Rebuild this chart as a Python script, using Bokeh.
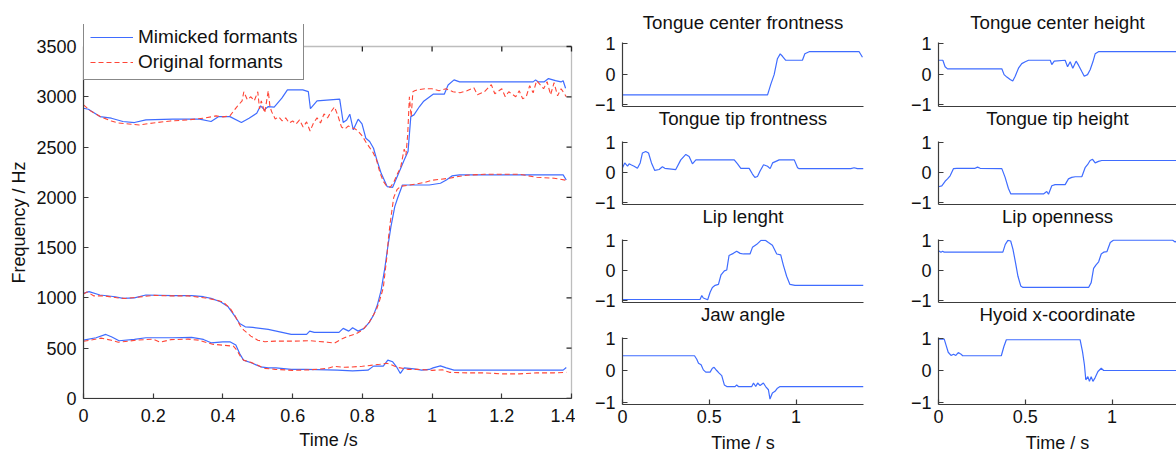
from bokeh.plotting import figure
from bokeh.layouts import row, column
from bokeh.models import Range1d, FixedTicker, LinearAxis, Legend, LegendItem, Title, BoxAnnotation
from bokeh.embed import file_html
from bokeh.resources import INLINE

# ---------------- data: main formant plot ----------------
x_ticks_main = [0, 0.2, 0.4, 0.6, 0.8, 1.0, 1.2, 1.4]
x_labels_main = ["0", "0.2", "0.4", "0.6", "0.8", "1", "1.2", "1.4"]
y_ticks_main = [0, 500, 1000, 1500, 2000, 2500, 3000, 3500]

t_f3_mim = [0, .014, .047, .08, .113, .146, .179, .256, .333, .366, .388, .42, .453, .475, .497, .508, .519, .53, .547,
            .569, .585, .629, .645, .651, .67, .735, .745, .755, .764, .774, .788, .799, .81, .821, .832, .843, .854,
            .871, .887, .904, .92, .931, .939, .948, .964, .975, 1.003, 1.035, 1.046, 1.063, 1.079, 1.29, 1.297,
            1.305, 1.321, 1.334, 1.354, 1.37, 1.376, 1.383]
f3_mim = [2886, 2876, 2803, 2787, 2754, 2744, 2770, 2777, 2777, 2754, 2803, 2803, 2744, 2787, 2836, 2910, 2870, 2903, 2897,
          2986, 3069, 3069, 3052, 2883, 2960, 2976, 2744, 2770, 2827, 2671, 2777, 2730, 2588, 2555, 2488, 2356, 2239,
          2107, 2100, 2239, 2372, 2455, 2803, 2820, 2903, 2953, 3026, 3026, 3118, 3168, 3148, 3148, 3168,
          3148, 3148, 3181, 3161, 3148, 3160, 3085]

t_f3_orig = [0, .02, .05, .08, .1, .13, .16, .2, .25, .3, .35, .38, .4, .42, .44, .455, .46, .47, .48, .49, .5, .505,
             .51, .52, .53, .535, .54, .55, .56, .57, .58, .59, .6, .61, .62, .63, .64, .65, .66, .67, .68, .69, .7,
             .71, .72, .73, .74, .75, .76, .77, .78, .79, .8, .81, .82, .83, .84, .85, .86, .87, .88, .89, .9, .91,
             .92, .925, .93, .935, .94, .945, .95, .96, .98, 1.0, 1.02, 1.04, 1.06, 1.08, 1.1, 1.12, 1.13, 1.15, 1.17,
             1.18, 1.2, 1.21, 1.22, 1.24, 1.25, 1.26, 1.27, 1.28, 1.29, 1.3, 1.31, 1.32, 1.33, 1.34, 1.35, 1.36, 1.37,
             1.38, 1.385]
f3_orig = [2920, 2860, 2800, 2760, 2740, 2730, 2720, 2740, 2760, 2770, 2790, 2810, 2800, 2810, 2900, 2960, 3050, 2970,
           3000, 2960, 3050, 2880, 2960, 2840, 3060, 2900, 2850, 2780, 2800, 2760, 2790, 2740, 2760, 2730, 2770, 2700,
           2750, 2660, 2740, 2790, 2740, 2830, 2790, 2850, 2900, 2810, 2700, 2680, 2710, 2690, 2680, 2650, 2610, 2550,
           2500, 2450, 2380, 2250, 2160, 2110, 2100, 2150, 2230, 2300, 2480, 2420, 2620, 3000, 2800, 3050, 3060, 3070,
           3080, 3080, 3060, 3080, 3050, 3040, 3060, 3090, 3020, 3050, 3120, 3030, 3080, 3000, 3050, 3000, 3060, 2980,
           3000, 3110, 3040, 3160, 3120, 3080, 3150, 3020, 3140, 3010, 3080, 3030, 3000]

t_f2_mim = [0, .016, .047, .091, .113, .146, .179, .256, .31, .344, .366, .393, .415, .432, .448, .464, .486, .53, .563,
            .596, .64, .649, .662, .706, .733, .745, .761, .772, .788, .805, .821, .832, .843, .854, .865, .873, .882,
            .893, .901, .915, .948, .992, 1.024, 1.041, 1.057, 1.079, 1.2, 1.3, 1.376, 1.385]
f2_mim = [1045, 1062, 1029, 1012, 995, 1000, 1029, 1022, 1022, 1012, 995, 962, 912, 829, 746, 713, 707, 687, 663,
          637, 637, 670, 657, 657, 657, 697, 670, 703, 670, 697, 763, 829, 929, 1078, 1310, 1509, 1709,
          1908, 1991, 2123, 2123, 2123, 2140, 2173, 2213, 2223, 2223, 2223, 2223, 2173]

t_f2_orig = [0, .01, .03, .06, .1, .12, .15, .2, .25, .3, .35, .38, .4, .42, .435, .45, .46, .48, .5, .52, .55, .6,
             .65, .7, .72, .74, .76, .78, .8, .82, .84, .85, .86, .87, .875, .88, .89, .9, .91, .93, .95, .98, 1.0,
             1.05, 1.08, 1.1, 1.15, 1.2, 1.25, 1.3, 1.35, 1.385]
f2_orig = [1040, 1060, 1020, 1020, 1000, 995, 1005, 1025, 1020, 1020, 1000, 980, 960, 900, 820, 720, 680, 620, 580,
           565, 570, 570, 575, 560, 550, 590, 620, 640, 680, 760, 880, 980, 1100, 1400, 1600, 1750, 2000, 2080, 2110,
           2120, 2130, 2150, 2170, 2190, 2210, 2220, 2230, 2230, 2230, 2200, 2190, 2170]

t_f1_mim = [0, .036, .064, .08, .102, .146, .179, .256, .31, .344, .366, .4, .42, .437, .448, .459, .481, .508, .53,
            .552, .596, .64, .728, .772, .816, .832, .86, .873, .887, .898, .909, .92, .948, .97, .992, 1.003, 1.024,
            1.041, 1.063, 1.2, 1.376, 1.385]
f1_mim = [581, 604, 637, 614, 574, 587, 604, 604, 607, 587, 554, 564, 564, 531, 448, 382, 355, 315, 305,
          305, 289, 289, 282, 275, 282, 322, 322, 382, 365, 315, 249, 305, 295, 282, 289, 305, 325,
          305, 282, 282, 282, 309]

t_f1_orig = [0, .02, .05, .08, .1, .13, .15, .2, .22, .25, .3, .33, .35, .37, .4, .43, .44, .45, .46, .48, .5, .52,
             .55, .6, .65, .7, .72, .75, .8, .85, .87, .88, .9, .93, .96, 1.0, 1.03, 1.05, 1.1, 1.15, 1.2, 1.25, 1.3,
             1.35, 1.385]
f1_orig = [570, 580, 600, 580, 560, 570, 580, 590, 560, 585, 590, 580, 560, 540, 530, 520, 480, 420, 380, 360, 330,
           300, 290, 280, 285, 300, 320, 310, 320, 340, 350, 340, 310, 290, 290, 280, 285, 260, 255, 255, 245, 245,
           255, 255, 260]

# ---------------- data: articulatory parameters ----------------
sub_ticks_y = [-1, 0, 1]
sub_ticks_x = [0, 0.5, 1]
sub_labels_x = ["0", "0.5", "1"]

t_tcf = [0, .836, .855, .874, .893, .909, .922, .941, 1.037, 1.051, 1.076, 1.364, 1.383]
v_tcf = [-.68, -.68, -.33, -.02, .5, .66, .58, .45, .45, .66, .73, .73, .55]

t_ttf = [0, .013, .029, .038, .052, .067, .086, .102, .115, .134, .15, .167, .186, .211, .23, .244, .307, .336, .365,
         .384, .403, .423, .644, .663, .682, .73, .749, .763, .778, .793, .813, .836, .851, .865, .884, .903, .99,
         1.009, 1.018, 1.316, 1.335, 1.354, 1.389]
v_ttf = [.16, .32, .21, .29, .25, .21, .14, .32, .65, .70, .65, .32, .07, .10, .19, .14, .10, .42, .60,
         .53, .29, .42, .42, .29, .14, .14, -.05, -.16, -.13, .05, .26, .21, .13, .32, .37, .42, .42,
         .16, .13, .13, .16, .13, .13]

t_lipl = [0, .447, .457, .466, .491, .505, .518, .534, .553, .568, .587, .601, .614, .639, .658, .678, .697, .735,
          .749, .774, .798, .825, .841, .864, .889, .912, .927, .946, .965, .994, 1.389]
v_lipl = [-.96, -.96, -.83, -.91, -.97, -.72, -.56, -.49, -.46, -.14, -.01, .02, .50, .57, .64, .57, .55, .55,
          .77, .87, 1.0, 1.0, .93, .84, .55, .52, .18, -.19, -.46, -.49, -.49]

t_jaw = [0, .415, .428, .438, .453, .466, .48, .505, .518, .528, .543, .557, .572, .587, .601, .649, .658, .668, .745,
         .755, .768, .779, .793, .812, .825, .841, .85, .864, .879, .893, .908, 1.389]
v_jaw = [.46, .46, .35, .23, .18, .02, -.05, -.05, .07, .10, 0, -.08, -.16, -.45, -.5, -.5, -.45, -.5, -.5,
         -.39, -.5, -.39, -.47, -.39, -.5, -.6, -.89, -.7, -.65, -.55, -.5, -.5]

t_tch = [0, .025, .038, .052, .365, .378, .394, .413, .428, .442, .461, .48, .5, .519, .644, .653, .667, .73, .744,
         .759, .774, .793, .807, .826, .84, .859, .874, .89, .903, .922, 1.374]
v_tch = [.45, .45, .24, .17, .17, -.02, -.10, -.18, -.23, -.07, .19, .34, .40, .45, .45, .31, .42, .45, .24,
         .40, .19, .42, .29, .08, -.07, -.02, .14, .40, .66, .73, .73]

t_tth = [0, .019, .038, .052, .067, .086, .106, .211, .225, .24, .365, .384, .403, .417, .605, .624, .634, .653, .672,
         .73, .749, .768, .788, .826, .845, .859, .874, .888, .903, .922, .941, 1.374]
v_tth = [-.47, -.44, -.29, -.21, -.11, .13, .14, .14, .18, .14, .13, -.16, -.53, -.71, -.71, -.63, -.72, -.44, -.40,
         -.40, -.21, -.16, -.14, -.14, .16, .26, .40, .44, .32, .37, .40, .40]

t_lipo = [0, .014, .024, .033, .371, .385, .4, .416, .429, .443, .458, .474, .487, .865, .88, .894, .907, .923, .938,
          .952, .971, .99, 1.01, 1.348, 1.364, 1.383]
v_lipo = [.66, .61, .64, .61, .61, .87, 1.0, .98, .71, .29, -.19, -.51, -.56, -.56, -.40, .07, .18, .29, .55,
          .61, .63, .93, 1.01, 1.01, .95, 1.0]

t_hyo = [0, .033, .043, .056, .072, .087, .1, .114, .13, .139, .362, .377, .391, .816, .83, .841, .849, .861, .87, .88,
         .89, .903, .919, .938, .952, 1.387]
v_hyo = [.98, .98, .80, .57, .47, .51, .47, .56, .51, .46, .46, .75, .96, .96, .59, .18, -.29, -.19, -.34, -.19,
         -.34, -.22, -.03, .07, 0, 0]

# ---------------- styling ----------------
FONT = "Liberation Sans"
BLUE = "#3f6cff"
RED = "#ff4536"
AX = "#3c3c3c"
BOX = "#262626"
TXT = "#111111"
TITLE_SIZE = "18.7px"


def style_axis(ax):
    ax.axis_line_color = AX
    ax.axis_line_width = 1.2
    ax.major_tick_line_color = AX
    ax.major_tick_line_width = 1.2
    ax.major_tick_in = 5
    ax.major_tick_out = 0
    ax.minor_tick_line_color = None
    ax.major_label_text_font = FONT
    ax.major_label_text_font_size = "18px"
    ax.major_label_text_color = TXT
    ax.axis_label_text_font = FONT
    ax.axis_label_text_font_size = "18px"
    ax.axis_label_text_font_style = "normal"
    ax.axis_label_text_color = TXT


# ---------------- main figure ----------------
# the frame reaches up to the legend top; the axes box itself stops at 3500 Hz
px_per_hz = 352 / y_ticks_main[-1]
px_per_s = 488 / x_ticks_main[-1]
y_top = 374 / px_per_hz
x_end = x_ticks_main[-1] + 2 / px_per_s
x_last, y_last = x_ticks_main[-1], y_ticks_main[-1]

main = figure(width=575, height=455, x_range=Range1d(x_ticks_main[0], x_end),
              y_range=Range1d(y_ticks_main[0], y_top),
              output_backend="svg", toolbar_location=None,
              min_border_left=83, min_border_right=2, min_border_top=24, min_border_bottom=57)
main.grid.visible = False
main.outline_line_color = None

r_m3 = main.line(t_f3_mim, f3_mim, color=BLUE, line_width=1.2)
r_o3 = main.line(t_f3_orig, f3_orig, color=RED, line_width=1.1, line_dash="5 3")
main.line(t_f2_mim, f2_mim, color=BLUE, line_width=1.2)
main.line(t_f2_orig, f2_orig, color=RED, line_width=1.1, line_dash="5 3")
main.line(t_f1_mim, f1_mim, color=BLUE, line_width=1.2)
main.line(t_f1_orig, f1_orig, color=RED, line_width=1.1, line_dash="5 3")

# axes box (top and right edges) with inward ticks on top/right
box = BoxAnnotation(left=x_ticks_main[0], right=x_last, bottom=y_ticks_main[0], top=y_last,
                    fill_alpha=0, fill_color=None, line_color=BOX, line_width=1.3)
main.add_layout(box)
tick_hz = 5 / px_per_hz
tick_s = 5 / px_per_s
main.segment(x0=x_ticks_main, y0=[y_last] * len(x_ticks_main), x1=x_ticks_main,
             y1=[y_last - tick_hz] * len(x_ticks_main), color=BOX, line_width=1.3)
main.segment(x0=[x_last] * len(y_ticks_main), y0=y_ticks_main, x1=[x_last - tick_s] * len(y_ticks_main),
             y1=y_ticks_main, color=BOX, line_width=1.3)

main.xaxis.ticker = FixedTicker(ticks=x_ticks_main)
main.xaxis.major_label_overrides = {k: v for k, v in zip(x_ticks_main, x_labels_main)}
main.yaxis.ticker = FixedTicker(ticks=y_ticks_main)
main.yaxis.bounds = (y_ticks_main[0], y_last)
main.xaxis.bounds = (x_ticks_main[0], x_last)
style_axis(main.xaxis[0])
style_axis(main.yaxis[0])
main.xaxis.axis_label = "Time /s"
main.xaxis.major_label_standoff = 10
main.xaxis.axis_label_standoff = 5
main.yaxis.major_label_standoff = 7

# y label as a left-side title, anchored so that it is centred on the 0..3500 box
ylab = Title(text="Frequency / Hz", align="left", offset=115, vertical_align="middle", standoff=7,
             text_font=FONT, text_font_size="18px", text_font_style="normal", text_color=TXT)
main.add_layout(ylab, "left")

legend = Legend(items=[LegendItem(label="Mimicked formants", renderers=[r_m3]),
                       LegendItem(label="Original formants", renderers=[r_o3])],
                location=(0, 318), padding=6, spacing=3, margin=0,
                glyph_width=43, glyph_height=20, label_height=20, label_standoff=5,
                label_text_font=FONT, label_text_font_size="19px", label_text_color=TXT,
                border_line_color=TXT, border_line_width=1.2,
                background_fill_color="white", background_fill_alpha=1.0)
main.add_layout(legend, "center")


# ---------------- small figures ----------------
# each panel's title is drawn as the label of the axis just above it (first row)
# or of the bottom axis of the panel above, so that no text straddles two canvases
def small(t, v, height, top, bottom, width, left, right, xend, top_title, below_text, is_last):
    p = figure(width=width, height=height, x_range=Range1d(0, xend), y_range=Range1d(-1.06, 1.03),
               output_backend="svg", toolbar_location=None,
               min_border_left=left, min_border_right=right, min_border_top=top, min_border_bottom=bottom)
    p.grid.visible = False
    p.outline_line_color = None
    p.line(t, v, color=BLUE, line_width=1.2)
    style_axis(p.yaxis[0])
    p.yaxis.ticker = FixedTicker(ticks=sub_ticks_y)
    p.yaxis.major_label_standoff = 7
    style_axis(p.xaxis[0])
    p.xaxis.axis_label = below_text
    if is_last:
        p.xaxis.ticker = FixedTicker(ticks=sub_ticks_x)
        p.xaxis.major_label_overrides = {k: s for k, s in zip(sub_ticks_x, sub_labels_x)}
        p.xaxis.major_label_standoff = 5
        p.xaxis.axis_label_standoff = 7
    else:
        p.xaxis.ticker = FixedTicker(ticks=[])
        p.xaxis.major_tick_in = 0
        p.xaxis.major_label_standoff = 0
        p.xaxis.axis_label_standoff = 1
        p.xaxis.axis_label_text_font_size = TITLE_SIZE
    if top_title:
        ta = LinearAxis(ticker=FixedTicker(ticks=[]), axis_label=top_title)
        style_axis(ta)
        ta.axis_line_color = None
        ta.major_tick_in = 0
        ta.major_label_standoff = 0
        ta.axis_label_standoff = 10
        ta.axis_label_text_font_size = TITLE_SIZE
        p.add_layout(ta, "above")
    return p


heights = [131, 98, 98, 128]
tops = [42, 10, 10, 10]
bottoms = [22, 21, 21, 51]

col1_names = ["Tongue center frontness", "Tongue tip frontness", "Lip lenght", "Jaw angle"]
col1_data = [(t_tcf, v_tcf), (t_ttf, v_ttf), (t_lipl, v_lipl), (t_jaw, v_jaw)]
col2_names = ["Tongue center height", "Tongue tip height", "Lip openness", "Hyoid x-coordinate"]
col2_data = [(t_tch, v_tch), (t_tth, v_tth), (t_lipo, v_lipo), (t_hyo, v_hyo)]


def build_column(names, data, width, left, right, xend):
    figs = []
    for i, (t, v) in enumerate(data):
        top_title = names[0] if i == 0 else None
        below = names[i + 1] if i < 3 else "Time / s"
        figs.append(small(t, v, heights[i], tops[i], bottoms[i], width, left, right, xend,
                          top_title, below, i == 3))
    return column(*figs, spacing=0)


col1 = build_column(col1_names, col1_data, 318, 47, 30, 241 / 173.5)
col2 = build_column(col2_names, col2_data, 283, 45, 0, 238 / 173.5)

layout = row(main, col1, col2, spacing=0)

open("out.html", "w").write(file_html(layout, INLINE))
